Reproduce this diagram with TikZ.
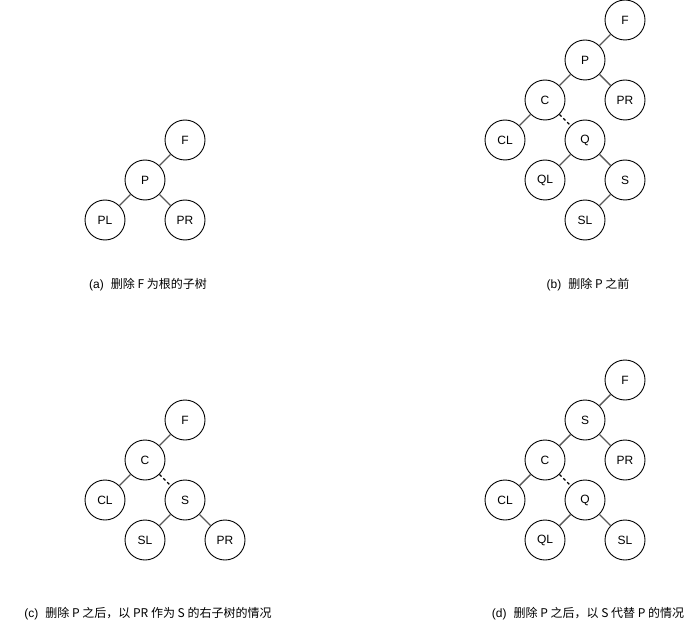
\documentclass[tikz,border=0pt]{standalone}
\usepackage{fontspec}
\setmainfont{Liberation Sans}
\newfontfamily\cjk{Noto Sans CJK SC}
\begin{document}
\begin{tikzpicture}[x=1pt,y=-1pt,
  tn/.style={circle,draw=black,line width=0.9pt,minimum size=40pt,inner sep=0pt,font=\fontsize{12}{14}\selectfont},
  ed/.style={draw=black!65,line width=1.4pt},
  dl/.style={draw=black,line width=1.1pt,dash pattern=on 3pt off 2.5pt},
  captxt/.style={font=\fontsize{12}{14}\selectfont,inner sep=0pt}]
\useasboundingbox (0,0) rectangle (690,631);
% (a)
\node[tn] (aF) at (185,140) {F};
\node[tn] (aP) at (145,180) {P};
\node[tn] (aPL) at (105,220) {PL};
\node[tn] (aPR) at (185,220) {PR};
\draw[ed] (aF) -- (aP);
\draw[ed] (aP) -- (aPL);
\draw[ed] (aP) -- (aPR);
\node[captxt] (capa) at (148,285) {(a)\hspace{7pt}\cjk{删除} F \cjk{为根的子树}};
% (b)
\node[tn] (bF) at (625,20) {F};
\node[tn] (bP) at (585,60) {P};
\node[tn] (bPR) at (625,100) {PR};
\node[tn] (bC) at (545,100) {C};
\node[tn] (bCL) at (505,140) {CL};
\node[tn] (bQ) at (585,140) {Q};
\node[tn] (bQL) at (545,180) {QL};
\node[tn] (bS) at (625,180) {S};
\node[tn] (bSL) at (585,220) {SL};
\draw[ed] (bF) -- (bP);
\draw[ed] (bP) -- (bC);
\draw[ed] (bP) -- (bPR);
\draw[ed] (bC) -- (bCL);
\draw[dl] (bC) -- (bQ);
\draw[ed] (bQ) -- (bQL);
\draw[ed] (bQ) -- (bS);
\draw[ed] (bS) -- (bSL);
\node[captxt] (capb) at (588,285) {(b)\hspace{7pt}\cjk{删除} P \cjk{之前}};
% (c)
\node[tn] (cF) at (185,420) {F};
\node[tn] (cC) at (145,460) {C};
\node[tn] (cCL) at (105,500) {CL};
\node[tn] (cS) at (185,500) {S};
\node[tn] (cSL) at (145,540) {SL};
\node[tn] (cPR) at (225,540) {PR};
\draw[ed] (cF) -- (cC);
\draw[ed] (cC) -- (cCL);
\draw[dl] (cC) -- (cS);
\draw[ed] (cS) -- (cSL);
\draw[ed] (cS) -- (cPR);
\node[captxt] (capc) at (148,614) {(c)\hspace{7pt}\cjk{删除} P \cjk{之后，以} PR \cjk{作为} S \cjk{的右子树的情况}};
% (d)
\node[tn] (dF) at (625,380) {F};
\node[tn] (dS) at (585,420) {S};
\node[tn] (dPR) at (625,460) {PR};
\node[tn] (dC) at (545,460) {C};
\node[tn] (dCL) at (505,500) {CL};
\node[tn] (dQ) at (585,500) {Q};
\node[tn] (dQL) at (545,540) {QL};
\node[tn] (dSL) at (625,540) {SL};
\draw[ed] (dF) -- (dS);
\draw[ed] (dS) -- (dC);
\draw[ed] (dS) -- (dPR);
\draw[ed] (dC) -- (dCL);
\draw[dl] (dC) -- (dQ);
\draw[ed] (dQ) -- (dQL);
\draw[ed] (dQ) -- (dSL);
\node[captxt] (capd) at (588,614) {(d)\hspace{7pt}\cjk{删除} P \cjk{之后，以} S \cjk{代替} P \cjk{的情况}};
\end{tikzpicture}
\end{document}
